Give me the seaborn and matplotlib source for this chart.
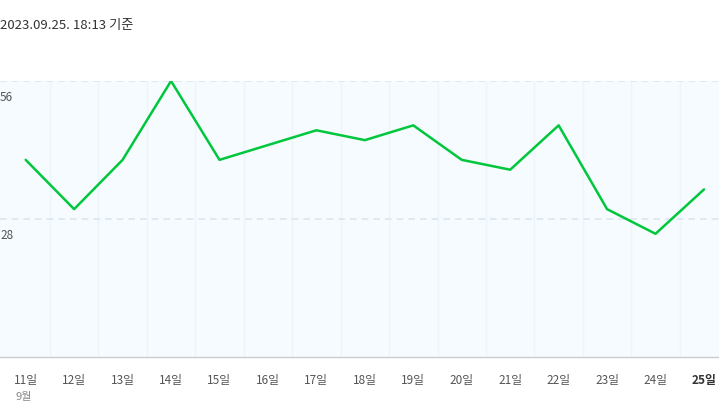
import numpy as np
import pandas as pd
import matplotlib
matplotlib.use('Agg')
import matplotlib.pyplot as plt
import matplotlib.transforms as mtransforms
import seaborn as sns

# 데이터
days = ['11일', '12일', '13일', '14일', '15일', '16일', '17일', '18일',
        '19일', '20일', '21일', '22일', '23일', '24일', '25일']
values = [40, 30, 40, 56, 40, 43, 46, 44, 47, 40, 38, 47, 30, 25, 34]
y_ticks = [28, 56]
month_label = '9월'
title = '2023.09.25. 18:13 기준'

sns.set_style('white')
plt.rcParams['font.family'] = ['Noto Sans CJK KR', 'DejaVu Sans']
plt.rcParams['axes.unicode_minus'] = False

df = pd.DataFrame({'pos': np.arange(len(days)), 'value': values})

fig = plt.figure(figsize=(7.19, 4.09), dpi=100)
ax = fig.add_axes([0, 52 / 409, 1, 276 / 409])
ax.set_facecolor('#f5fbff')

sns.lineplot(data=df, x='pos', y='value', ax=ax, color='#00c73c',
             linewidth=1.8, zorder=3)

ax.set_xlim(-0.53, 14.31)
ax.set_ylim(0, 56)

# 세로 구분선
for b in np.arange(0.5, len(days) - 1, 1):
    ax.axvline(b, color='#ecf5fc', linewidth=1, zorder=1)
# 가로 점선 + 라벨 (선 아래쪽)
lab_tr = mtransforms.offset_copy(ax.get_yaxis_transform(), fig=fig,
                                 x=0, y=-16, units='dots')
for t in y_ticks:
    ax.axhline(t, color='#dde6ee', linewidth=1.2, linestyle=(0, (4, 3)), zorder=2)
    ax.text(0.0, t, str(t), transform=lab_tr,
            ha='left', va='center', fontsize=8.5, color='#555555')

for s in ['top', 'left', 'right']:
    ax.spines[s].set_visible(False)
ax.spines['bottom'].set_color('#cccccc')
ax.spines['bottom'].set_linewidth(1)

ax.set_yticks([])
ax.set_xticks(df['pos'])
ax.set_xticklabels(days, fontsize=8.5, color='#555555')
ax.tick_params(axis='x', length=0, pad=12)
ax.get_xticklabels()[-1].set_fontweight('bold')
ax.get_xticklabels()[-1].set_color('#333333')
ax.set_xlabel('')
ax.set_ylabel('')

fig.text(15 / 719, 1 - 397 / 409, month_label, fontsize=8, color='#888888',
         ha='left', va='center')
fig.text(0.0, 1 - 26 / 409, title, fontsize=9.5, color='#333333',
         ha='left', va='center')

fig.savefig('out.png', dpi=100)
